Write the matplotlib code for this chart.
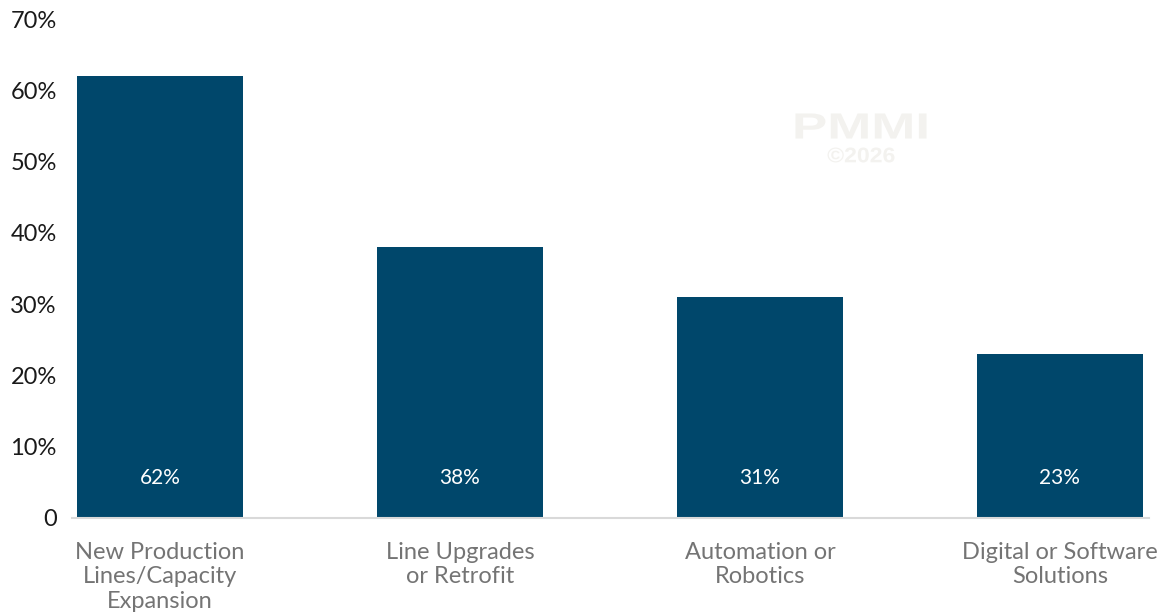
import matplotlib
matplotlib.use("Agg")
import matplotlib.pyplot as plt
from matplotlib.ticker import FuncFormatter
from matplotlib.textpath import TextPath
from matplotlib.font_manager import FontProperties
from matplotlib.patches import PathPatch
from matplotlib.transforms import Affine2D

categories = ["New Production\nLines/Capacity\nExpansion", "Line Upgrades\nor Retrofit",
              "Automation or\nRobotics", "Digital or Software\nSolutions"]
values = [62, 38, 31, 23]
yticks = [0, 10, 20, 30, 40, 50, 60, 70]

W, H = 1162, 613
fig = plt.figure(figsize=(W / 100, H / 100), dpi=100)
ax_left, ax_right, ax_bottom, ax_top = 72, 1149, 518, 19
ax = fig.add_axes([ax_left / W, (H - ax_bottom) / H, (ax_right - ax_left) / W, (ax_bottom - ax_top) / H])

font = "Lato"
bar_color = "#00476b"
x = list(range(len(values)))
ax.bar(x, values, width=0.553, color=bar_color, zorder=2)

ax.set_xlim(-0.293, 3.297)
ax.set_ylim(0, 70)
ax.set_yticks(yticks)
ax.yaxis.set_major_formatter(FuncFormatter(lambda v, p: "0" if v == 0 else f"{v:.0f}%"))
ax.tick_params(axis="y", length=0, pad=11, labelsize=17, labelcolor="#1a1a1a")
for lab in ax.get_yticklabels():
    lab.set_fontfamily(font)
ax.set_xticks([])
for s in ["top", "right", "left"]:
    ax.spines[s].set_visible(False)
ax.spines["bottom"].set_color("#d9d9d9")
ax.spines["bottom"].set_linewidth(1.5)
ax.spines["bottom"].set_zorder(3)

for xi, v in zip(x, values):
    ax.text(xi, 5.6, f"{v}%", ha="center", va="center", color="white",
            fontsize=15, fontfamily=font, zorder=4)

for xi, c in zip(x, categories):
    ax.annotate(c, xy=(xi, 0), xytext=(0, -17), textcoords="offset points",
                ha="center", va="top", color="#747474", fontsize=17,
                fontfamily=font, linespacing=1.22)


def watermark(text, cx, cy, width_px, height_px, color):
    """Draw text stretched to fill a box of the given pixel size, centred at (cx, cy)."""
    tp = TextPath((0, 0), text, size=100, prop=FontProperties(family="Liberation Sans", weight="bold"))
    bb = tp.get_extents()
    sx = width_px / bb.width
    sy = height_px / bb.height
    tr = (Affine2D().translate(-bb.x0 - bb.width / 2, -bb.y0 - bb.height / 2)
          .scale(sx, sy).translate(cx, H - cy))
    fig.patches.append(PathPatch(tr.transform_path(tp), facecolor=color, edgecolor="none",
                                 transform=None, figure=fig, zorder=0))


watermark("PMMI", 861, 126, 131, 25, "#f3f2ef")
watermark("\u00a92026", 861, 155, 67, 15, "#f3f2ef")

fig.savefig("out.png", dpi=100)
